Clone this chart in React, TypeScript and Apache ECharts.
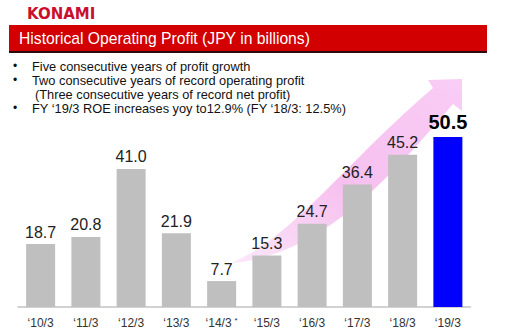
import React, { useEffect, useRef } from "react";
import * as echarts from "echarts";

const categories = ["‘10/3", "‘11/3", "‘12/3", "‘13/3", "‘14/3", "‘15/3", "‘16/3", "‘17/3", "‘18/3", "‘19/3"];
const profits = [18.7, 20.8, 41.0, 21.9, 7.7, 15.3, 24.7, 36.4, 45.2, 50.5];
const footnoteCategory = "‘14/3";
const highlightCategory = "‘19/3";
const titleText = "Historical Operating Profit (JPY in billions)";
const bulletLines = [
  { bullet: true, text: "Five consecutive years of profit growth" },
  { bullet: true, text: "Two consecutive years of record operating profit" },
  { bullet: false, text: "(Three consecutive years of record net profit)" },
  { bullet: true, text: "FY ‘19/3 ROE increases yoy to12.9% (FY ‘18/3: 12.5%)" },
];

const ARROW_D =
  "M 233 262 C 292 238 348 160 433 88 L 428 80 L 462 79 L 462 111 L 453 104 C 386 182 322 254 233 263 Z";

let registered = false;
function ensureShape() {
  if (registered) return;
  echarts.graphic.registerShape("growthArrow", echarts.graphic.extendPath(ARROW_D, {}) as any);
  registered = true;
}

export default function App() {
  const ref = useRef<HTMLDivElement>(null);
  useEffect(() => {
    document.body.style.margin = "0";
    ensureShape();
    const chart = echarts.init(ref.current!, null, { renderer: "svg" });
    const font = "Liberation Sans, Arial, sans-serif";
    const data = profits.map((v, i) => {
      const hi = categories[i] === highlightCategory;
      return {
        value: v,
        itemStyle: { color: hi ? "#0000ff" : "#bfbfbf" },
        label: hi
          ? { fontSize: 20, fontWeight: "bold", color: "#000", distance: 5 }
          : { fontSize: 16, color: "#222", distance: 4 },
      };
    });
    const graphic: any[] = [
      {
        type: "text",
        x: 27,
        y: 6,
        z: 10,
        style: { text: "KONAMI", font: "bold 15px DejaVu Sans, sans-serif", fill: "#c8102e" },
      },
      { type: "rect", x: 9, y: 25, shape: { width: 478, height: 28 }, style: { fill: "#2a0a0a" }, z: 5 },
      { type: "rect", x: 9, y: 25, shape: { width: 478, height: 26 }, style: { fill: "#d20000" }, z: 6 },
      {
        type: "text",
        x: 19,
        y: 38,
        z: 10,
        style: { text: titleText, font: `15.7px ${font}`, fill: "#fff", verticalAlign: "middle" },
      },
      {
        type: "growthArrow",
        x: 0,
        y: 0,
        z: 0,
        style: {
          fill: new echarts.graphic.LinearGradient(0, 1, 1, 0, [
            { offset: 0, color: "#fce8f9" },
            { offset: 0.45, color: "#f6c0ef" },
            { offset: 1, color: "#f9cdf5" },
          ]),
        },
      },
    ];
    bulletLines.forEach((l, i) => {
      const y = 66 + i * 14.1;
      if (l.bullet) {
        graphic.push({
          type: "text",
          x: 13,
          y,
          z: 10,
          style: { text: "•", font: `12px ${font}`, fill: "#111", verticalAlign: "middle" },
        });
      }
      graphic.push({
        type: "text",
        x: l.bullet ? 32 : 35,
        y,
        z: 10,
        style: { text: l.text, font: `12.8px ${font}`, fill: "#111", verticalAlign: "middle" },
      });
    });

    chart.setOption({
      animation: false,
      grid: { left: 18, right: 56.5, top: 105, bottom: 24 },
      xAxis: {
        type: "category",
        data: categories,
        axisLine: { lineStyle: { color: "#c4c4c4", width: 1.5 } },
        axisTick: { show: false },
        axisLabel: {
          interval: 0,
          margin: 9,
          fontSize: 12,
          lineHeight: 14,
          color: "#333",
          fontFamily: font,
          formatter: (v: string) => (v === footnoteCategory ? `{base|${v}}{sup|*}` : v),
          rich: {
            base: { fontSize: 12, lineHeight: 14, color: "#333", fontFamily: font },
            sup: { fontSize: 8, lineHeight: 14, verticalAlign: "top", color: "#333", padding: [0, 0, 0, 3] },
          },
        },
      },
      yAxis: { type: "value", min: 0, max: 60, show: false },
      series: [
        {
          type: "bar",
          data,
          barWidth: 29,
          z: 2,
          label: {
            show: true,
            position: "top",
            fontFamily: font,
            formatter: (p: any) => Number(p.value).toFixed(1),
          },
        },
      ],
      graphic,
    });
    return () => chart.dispose();
  }, []);
  return <div ref={ref} style={{ width: 527, height: 331, background: "#fff" }} />;
}
